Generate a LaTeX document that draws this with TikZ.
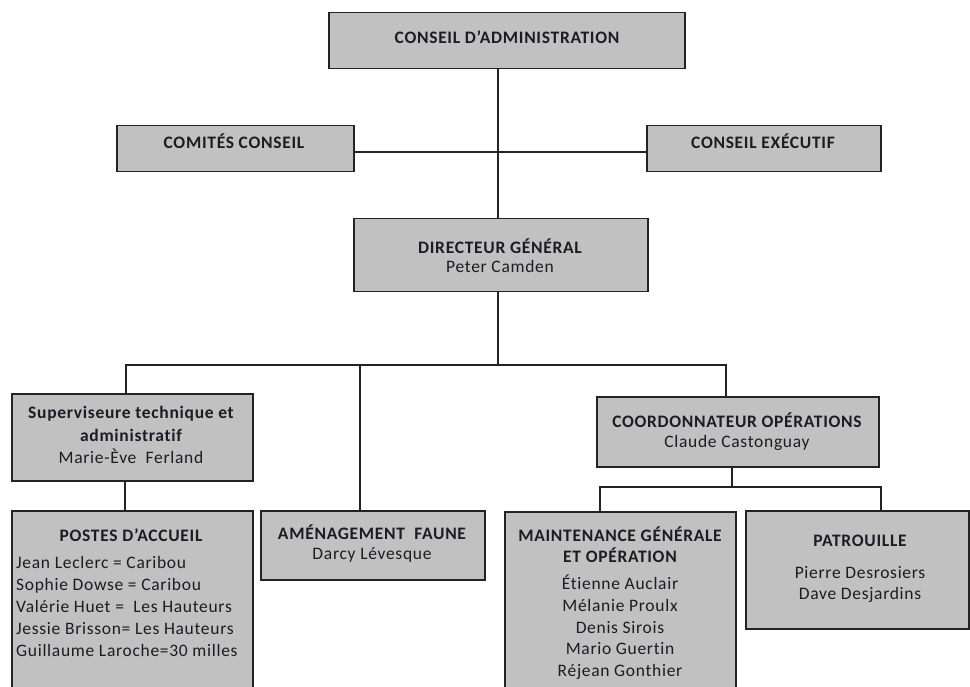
\documentclass[tikz,border=0pt]{standalone}
\usepackage{fontspec}
\setmainfont{Carlito}[LetterSpace=4,Ligatures={NoCommon}]
\definecolor{boxfill}{RGB}{193,193,193}
\definecolor{boxline}{RGB}{35,35,35}
\definecolor{txtcol}{RGB}{28,28,36}
\tikzset{
  orgbox/.style={draw=boxline, fill=boxfill, line width=1.5pt, rectangle, inner sep=0pt, anchor=north west},
  conn/.style={draw=boxline, line width=1.5pt},
  ttl/.style={inner sep=0pt, text=txtcol, anchor=base, font=\fontsize{17.5}{21}\selectfont\bfseries},
  nm/.style={inner sep=0pt, text=txtcol, anchor=base, font=\fontsize{17.5}{21}\selectfont},
  lst/.style={inner sep=0pt, text=txtcol, anchor=base west, font=\fontsize{17.5}{21}\selectfont},
}
\begin{document}
\begin{tikzpicture}[x=1pt,y=-1pt]
\useasboundingbox (0,0) rectangle (970,687);
\fill[white] (0,0) rectangle (970,687);
\clip (0,0) rectangle (970,687);

% boxes
\node[orgbox, minimum width=356, minimum height=56] (ca) at (328,12) {};
\node[orgbox, minimum width=237, minimum height=46] (cc) at (116,125) {};
\node[orgbox, minimum width=234, minimum height=46] (ce) at (646,125) {};
\node[orgbox, minimum width=294, minimum height=73] (dg) at (353,218) {};
\node[orgbox, minimum width=241, minimum height=87] (sup) at (11,393) {};
\node[orgbox, minimum width=241, minimum height=200] (post) at (11,510) {};
\node[orgbox, minimum width=224, minimum height=69] (amen) at (260,510) {};
\node[orgbox, minimum width=282, minimum height=70] (coord) at (596,396) {};
\node[orgbox, minimum width=231, minimum height=200] (maint) at (504,511) {};
\node[orgbox, minimum width=223, minimum height=118] (patr) at (745,510) {};

% texts
\node[ttl] (tca) at (507,44) {CONSEIL D’ADMINISTRATION};
\node[ttl] (tcc) at (234,149) {COMITÉS CONSEIL};
\node[ttl] (tce) at (763,149) {CONSEIL EXÉCUTIF};
\node[ttl] (tdg1) at (500,254) {DIRECTEUR GÉNÉRAL};
\node[nm]  (tdg2) at (500,273) {Peter Camden};
\node[ttl] (tsu1) at (131,418) {Superviseure technique et};
\node[ttl] (tsu2) at (131,441) {administratif};
\node[nm]  (tsu3) at (131,463) {Marie-Ève~~Ferland};
\node[ttl] (tpo) at (131,541) {POSTES D’ACCUEIL};
\node[lst] (tp1) at (16,568) {Jean Leclerc = Caribou};
\node[lst] (tp2) at (16,590) {Sophie Dowse = Caribou};
\node[lst] (tp3) at (16,612) {Valérie Huet =~~Les Hauteurs};
\node[lst] (tp4) at (16,634) {Jessie Brisson= Les Hauteurs};
\node[lst] (tp5) at (16,656) {Guillaume Laroche=30 milles};
\node[ttl] (tam1) at (372,539) {AMÉNAGEMENT~~FAUNE};
\node[nm]  (tam2) at (372,559) {Darcy Lévesque};
\node[ttl] (tco1) at (737,427) {COORDONNATEUR OPÉRATIONS};
\node[nm]  (tco2) at (737,447) {Claude Castonguay};
\node[ttl] (tma1) at (620,541) {MAINTENANCE GÉNÉRALE};
\node[ttl] (tma2) at (620,562) {ET OPÉRATION};
\node[nm]  (tma3) at (620,589) {Étienne Auclair};
\node[nm]  (tma4) at (620,611) {Mélanie Proulx};
\node[nm]  (tma5) at (620,633) {Denis Sirois};
\node[nm]  (tma6) at (620,654) {Mario Guertin};
\node[nm]  (tma7) at (620,676) {Réjean Gonthier};
\node[ttl] (tpa1) at (860,546) {PATROUILLE};
\node[nm]  (tpa2) at (860,578) {Pierre Desrosiers};
\node[nm]  (tpa3) at (860,599) {Dave Desjardins};

% junction points
\coordinate (m1) at (498,152);
\coordinate (m2) at (498,365);
\coordinate (a1) at (126,365);
\coordinate (a2) at (360,365);
\coordinate (c1) at (726,365);
\coordinate (p1) at (125,495);
\coordinate (c2) at (732,487);
\coordinate (c3) at (600,487);
\coordinate (c4) at (881,487);

% connectors
\draw[conn] (ca.south -| m1) -- (dg.north -| m1);
\draw[conn] (cc.east |- m1) -- (ce.west |- m1);
\draw[conn] (dg.south -| m2) -- (m2);
\draw[conn] (sup.north -| a1) -- (a1) -- (c1) -- (coord.north -| c1);
\draw[conn] (amen.north -| a2) -- (a2);
\draw[conn] (sup.south -| p1) -- (post.north -| p1);
\draw[conn] (coord.south -| c2) -- (c2);
\draw[conn] (maint.north -| c3) -- (c3) -- (c4) -- (patr.north -| c4);
\end{tikzpicture}
\end{document}
